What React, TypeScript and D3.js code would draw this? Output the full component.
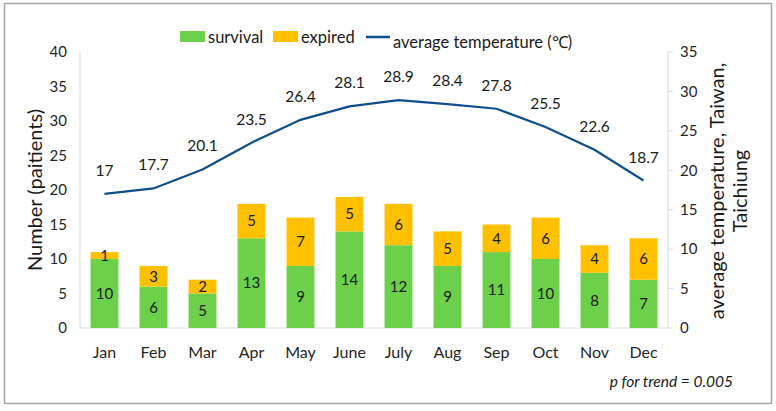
import { useEffect, useRef } from 'react';
import * as d3 from 'd3';

const months = ['Jan', 'Feb', 'Mar', 'Apr', 'May', 'June', 'July', 'Aug', 'Sep', 'Oct', 'Nov', 'Dec'];
const survival = [10, 6, 5, 13, 9, 14, 12, 9, 11, 10, 8, 7];
const expired = [1, 3, 2, 5, 7, 5, 6, 5, 4, 6, 4, 6];
const temperature = [17, 17.7, 20.1, 23.5, 26.4, 28.1, 28.9, 28.4, 27.8, 25.5, 22.6, 18.7];
const leftTicks = [0, 5, 10, 15, 20, 25, 30, 35, 40];
const rightTicks = [0, 5, 10, 15, 20, 25, 30, 35];

const GREEN = '#6cd04a';
const ORANGE = '#ffc000';
const BLUE = '#0f4f8c';
const FONT = 'Lato, "Open Sans", sans-serif';

export default function App() {
  const svgRef = useRef<SVGSVGElement>(null);

  useEffect(() => {
    if (!svgRef.current) return;
    const svg = d3.select(svgRef.current);
    svg.selectAll('*').remove();

    const W = 776;
    const H = 411;
    const left = 80;
    const right = 668;
    const top = 52;
    const bottom = 328;

    svg.attr('width', W).attr('height', H).style('font-family', FONT);

    svg.append('rect')
      .attr('x', 4.5).attr('y', 3.5)
      .attr('width', 767).attr('height', 400)
      .attr('fill', '#fff')
      .attr('stroke', '#a6a6a6')
      .attr('stroke-width', 1.5);

    const x = d3.scaleBand<string>().domain(months).range([left, right]).paddingInner(0.43).paddingOuter(0.215);
    const yL = d3.scaleLinear().domain([0, 40]).range([bottom, top]);
    const yR = d3.scaleLinear().domain([0, 35]).range([bottom, top]);

    // axes
    const axisColor = '#d9d9d9';
    svg.append('line').attr('x1', left).attr('x2', left).attr('y1', top).attr('y2', bottom).attr('stroke', axisColor);
    svg.append('line').attr('x1', right).attr('x2', right).attr('y1', top).attr('y2', bottom).attr('stroke', axisColor);
    svg.append('line').attr('x1', left).attr('x2', right).attr('y1', bottom).attr('y2', bottom).attr('stroke', axisColor);

    svg.append('g').selectAll('text').data(leftTicks).join('text')
      .attr('x', 67).attr('y', d => yL(d)).attr('dy', '0.35em')
      .attr('text-anchor', 'end').attr('font-size', 15).attr('fill', '#262626')
      .text(d => d);

    svg.append('g').selectAll('line').data(rightTicks).join('line')
      .attr('x1', right).attr('x2', right + 5).attr('y1', d => yR(d)).attr('y2', d => yR(d))
      .attr('stroke', axisColor);

    svg.append('g').selectAll('text').data(rightTicks).join('text')
      .attr('x', 680).attr('y', d => yR(d)).attr('dy', '0.35em')
      .attr('text-anchor', 'start').attr('font-size', 15).attr('fill', '#262626')
      .text(d => d);

    svg.append('g').selectAll('text').data(months).join('text')
      .attr('x', d => (x(d) ?? 0) + x.bandwidth() / 2).attr('y', 352).attr('dy', '0.35em')
      .attr('text-anchor', 'middle').attr('font-size', 16).attr('fill', '#262626')
      .text(d => d);

    // bars
    const bars = svg.append('g');
    months.forEach((m, i) => {
      const bx = x(m) ?? 0;
      const s = survival[i];
      const e = expired[i];
      bars.append('rect').attr('x', bx).attr('width', x.bandwidth())
        .attr('y', yL(s)).attr('height', yL(0) - yL(s)).attr('fill', GREEN);
      bars.append('rect').attr('x', bx).attr('width', x.bandwidth())
        .attr('y', yL(s + e)).attr('height', yL(s) - yL(s + e)).attr('fill', ORANGE);
      bars.append('text').attr('x', bx + x.bandwidth() / 2).attr('y', yL(s / 2)).attr('dy', '0.35em')
        .attr('text-anchor', 'middle').attr('font-size', 15).attr('fill', '#1a1a1a').text(s);
      bars.append('text').attr('x', bx + x.bandwidth() / 2).attr('y', yL(s + e / 2)).attr('dy', '0.35em')
        .attr('text-anchor', 'middle').attr('font-size', 15).attr('fill', '#1a1a1a').text(e);
    });

    // temperature line
    const line = d3.line<number>()
      .x((_, i) => (x(months[i]) ?? 0) + x.bandwidth() / 2)
      .y(d => yR(d));
    svg.append('path').datum(temperature)
      .attr('fill', 'none').attr('stroke', BLUE).attr('stroke-width', 2.2).attr('d', line);

    svg.append('g').selectAll('text').data(temperature).join('text')
      .attr('x', (_, i) => (x(months[i]) ?? 0) + x.bandwidth() / 2)
      .attr('y', d => yR(d) - 18)
      .attr('text-anchor', 'middle').attr('font-size', 15.5).attr('fill', '#1a1a1a')
      .text(d => d);

    // axis titles
    svg.append('text')
      .attr('transform', 'translate(42,190) rotate(-90)')
      .attr('text-anchor', 'middle').attr('font-size', 20).attr('fill', '#1a1a1a')
      .text('Number (paitients)');

    const rt = svg.append('text')
      .attr('transform', 'translate(717,191) rotate(-90)')
      .attr('text-anchor', 'middle').attr('font-size', 20).attr('fill', '#1a1a1a');
    rt.append('tspan').attr('x', 0).attr('dy', '0.35em').text('average temperature, Taiwan,');
    rt.append('tspan').attr('x', 0).attr('dy', '1.15em').text('Taichiung');

    // legend
    const lg = svg.append('g').attr('font-size', 16.5).attr('fill', '#1a1a1a');
    lg.append('rect').attr('x', 180).attr('y', 31).attr('width', 25).attr('height', 11).attr('fill', GREEN);
    lg.append('text').attr('x', 208).attr('y', 37).attr('dy', '0.35em').text('survival');
    lg.append('rect').attr('x', 273).attr('y', 31).attr('width', 25).attr('height', 11).attr('fill', ORANGE);
    lg.append('text').attr('x', 301).attr('y', 37).attr('dy', '0.35em').text('expired');
    lg.append('line').attr('x1', 366).attr('x2', 390).attr('y1', 37).attr('y2', 37).attr('stroke', BLUE).attr('stroke-width', 2.5);
    lg.append('text').attr('x', 393).attr('y', 42).attr('dy', '0.35em').text('average temperature (℃)');

    svg.append('text')
      .attr('x', 733).attr('y', 382).attr('dy', '0.35em')
      .attr('text-anchor', 'end').attr('font-size', 15.5).attr('font-style', 'italic').attr('fill', '#1a1a1a')
      .text('p for trend = 0.005');
  }, []);

  return (
    <div style={{ position: 'absolute', left: 0, top: 0 }}>
      <svg ref={svgRef} style={{ display: 'block' }} />
    </div>
  );
}
